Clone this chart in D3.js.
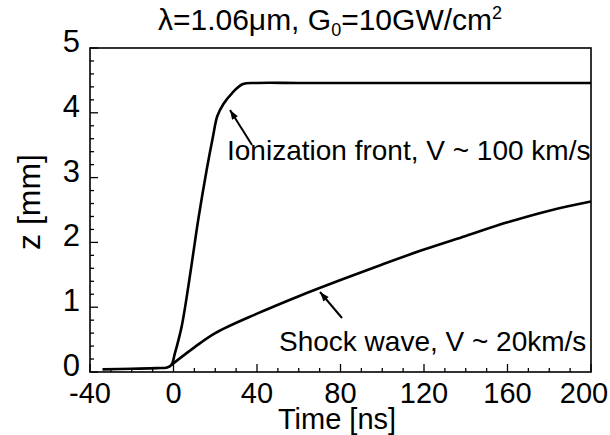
<!DOCTYPE html>
<meta charset="utf-8">
<title>Ionization front and shock wave</title>
<style>
  body { margin: 0; background: #fff; }
  text { font-family: 'Liberation Sans', 'Arial', sans-serif; fill: #000; }
  .curve { fill: none; stroke: #000; stroke-width: 2.6px; stroke-linejoin: round; }
  .frame { fill: none; stroke: #000; stroke-width: 1.6px; }
</style>
<svg width="610" height="435"></svg>
<script src="https://cdn.jsdelivr.net/npm/d3@7/dist/d3.min.js"></script>
<script>

// values (time in ns, z in mm)
var frontTime = [-34, -20, -8, -3, -1, 0.7, 3.9, 7.1, 9.5, 12, 15.9, 18.9, 21, 24, 28, 33, 40, 60, 100, 140, 180, 200];
var frontZ    = [0.04, 0.05, 0.06, 0.07, 0.11, 0.29, 0.70, 1.32, 1.84, 2.38, 3.12, 3.63, 3.95, 4.14, 4.30, 4.44, 4.46, 4.46, 4.46, 4.46, 4.46, 4.46];

var shockTime = [-1, 10, 20, 40, 60, 80, 100, 120, 140, 160, 180, 200];
var shockZ    = [0.11, 0.38, 0.60, 0.90, 1.17, 1.42, 1.66, 1.89, 2.10, 2.31, 2.49, 2.63];

var xTicks = [-40, 0, 40, 80, 120, 160, 200];
var yTicks = [0, 1, 2, 3, 4, 5];

var svg = d3.select("svg"),
    pLeft = 90, pRight = 591, pTop = 48, pBottom = 372;

var x = d3.scaleLinear().domain([-40, 200]).range([pLeft, pRight]);
var y = d3.scaleLinear().domain([0, 5]).range([pBottom, pTop]);

// ticks, pointing inward
var g = svg.append("g");
d3.range(-40, 201, 10).forEach(function (t) {
  var major = t % 40 === 0;
  g.append("line")
    .attr("x1", x(t)).attr("x2", x(t))
    .attr("y1", pBottom).attr("y2", pBottom - (major ? 8 : 4))
    .attr("stroke", "#000").attr("stroke-width", 1.3);
});
d3.range(0, 26).forEach(function (i) {
  var v = i * 0.2, major = i % 5 === 0;
  g.append("line")
    .attr("x1", pLeft).attr("x2", pLeft + (major ? 8 : 4))
    .attr("y1", y(v)).attr("y2", y(v))
    .attr("stroke", "#000").attr("stroke-width", 1.3);
});

svg.append("rect").attr("class", "frame")
  .attr("x", pLeft).attr("y", pTop)
  .attr("width", pRight - pLeft).attr("height", pBottom - pTop);

// tick labels
svg.selectAll(".xl").data(xTicks).enter().append("text")
  .attr("x", function (d) { return x(d); })
  .attr("dx", function (d) { return d === 200 ? -7 : 0; })
  .attr("y", 403)
  .attr("text-anchor", "middle")
  .attr("font-size", 29)
  .text(function (d) { return d; });

svg.selectAll(".yl").data(yTicks).enter().append("text")
  .attr("x", 80)
  .attr("y", function (d) { return y(d) + 4; })
  .attr("text-anchor", "end")
  .attr("font-size", 31)
  .text(function (d) { return d; });

// axis titles
svg.append("text").attr("x", 337).attr("y", 429)
  .attr("text-anchor", "middle").attr("font-size", 29).text("Time [ns]");
svg.append("text")
  .attr("transform", "translate(40,202) rotate(-90)")
  .attr("text-anchor", "middle").attr("font-size", 32).text("z [mm]");

// title
var title = svg.append("text").attr("x", 330).attr("y", 30)
  .attr("text-anchor", "middle").attr("font-size", 30);
title.append("tspan").text("λ=1.06μm, G");
title.append("tspan").attr("font-size", 18).attr("dy", 6).text("0");
title.append("tspan").attr("dy", -6).text("=10GW/cm");
title.append("tspan").attr("font-size", 18).attr("dy", -11).text("2");

// curves
var line = d3.line()
  .x(function (d) { return x(d[0]); })
  .y(function (d) { return y(d[1]); })
  .curve(d3.curveCatmullRom.alpha(0.5));

svg.append("path").attr("class", "curve")
  .attr("d", line(d3.zip(frontTime, frontZ)));
svg.append("path").attr("class", "curve")
  .attr("d", line(d3.zip(shockTime, shockZ)));

// arrows and notes
function arrow(x1, y1, x2, y2) {
  svg.append("line")
    .attr("x1", x1).attr("y1", y1).attr("x2", x2).attr("y2", y2)
    .attr("stroke", "#000").attr("stroke-width", 2);
  var a = Math.atan2(y2 - y1, x2 - x1), L = 10, w = 0.35;
  svg.append("path")
    .attr("d", "M" + x2 + "," + y2 +
      "L" + (x2 - L * Math.cos(a - w)) + "," + (y2 - L * Math.sin(a - w)) +
      "L" + (x2 - L * Math.cos(a + w)) + "," + (y2 - L * Math.sin(a + w)) + "Z")
    .attr("fill", "#000");
}
arrow(252, 145, 230, 110);
arrow(342, 318, 320, 292);

svg.append("text").attr("x", 227).attr("y", 160)
  .attr("font-size", 28).text("Ionization front, V ~ 100 km/s");
svg.append("text").attr("x", 279).attr("y", 351)
  .attr("font-size", 28).text("Shock wave, V ~ 20km/s");
</script>
